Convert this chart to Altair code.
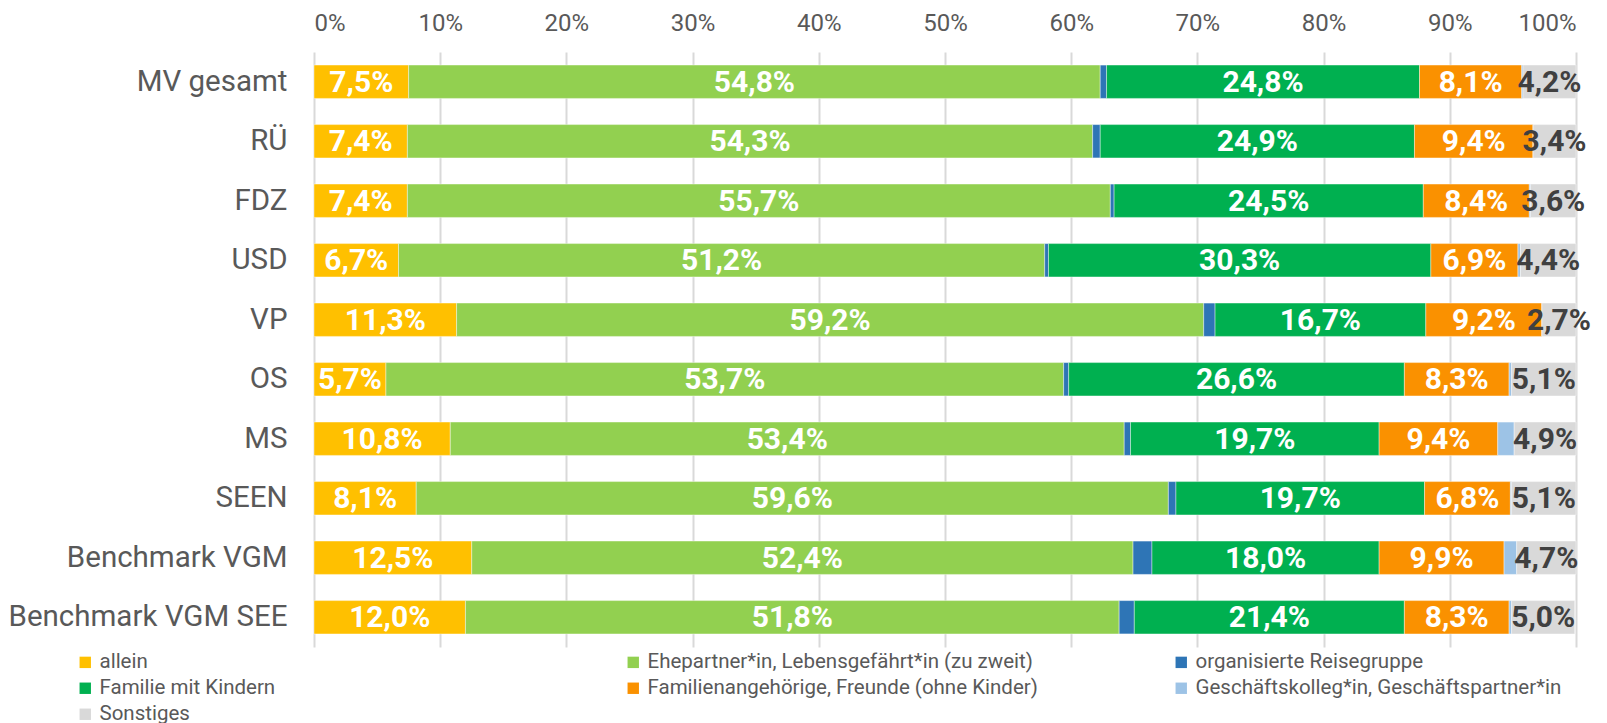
import altair as alt
import pandas as pd

cats = ["MV gesamt", "RÜ", "FDZ", "USD", "VP", "OS", "MS", "SEEN",
        "Benchmark VGM\u00a0", "Benchmark VGM SEE"]
series = ["allein", "Ehepartner*in, Lebensgefährt*in (zu zweit)", "organisierte Reisegruppe",
          "Familie mit Kindern", "Familienangehörige, Freunde (ohne Kinder)",
          "Geschäftskolleg*in, Geschäftspartner*in", "Sonstiges"]
colors = ["#FFC000", "#92D050", "#2E75B6", "#00B050", "#FA9100", "#9DC3E6", "#D9D9D9"]

allein = [7.5, 7.4, 7.4, 6.7, 11.3, 5.7, 10.8, 8.1, 12.5, 12.0]
ehe = [54.8, 54.3, 55.7, 51.2, 59.2, 53.7, 53.4, 59.6, 52.4, 51.8]
reise = [0.5, 0.6, 0.3, 0.3, 0.9, 0.4, 0.5, 0.6, 1.5, 1.2]
familie = [24.8, 24.9, 24.5, 30.3, 16.7, 26.6, 19.7, 19.7, 18.0, 21.4]
angeh = [8.1, 9.4, 8.4, 6.9, 9.2, 8.3, 9.4, 6.8, 9.9, 8.3]
geschaeft = [0.1, 0.0, 0.1, 0.2, 0.0, 0.2, 1.3, 0.1, 1.0, 0.2]
sonst = [4.2, 3.4, 3.6, 4.4, 2.7, 5.1, 4.9, 5.1, 4.7, 5.0]

values = [allein, ehe, reise, familie, angeh, geschaeft, sonst]
labeled = {0: "white", 1: "white", 3: "white", 4: "white", 6: "dark"}

rows = []
for ci, c in enumerate(cats):
    start = 0.0
    for si, s in enumerate(series):
        v = values[si][ci]
        end = start + v
        lab = ("%.1f%%" % v).replace(".", ",") if si in labeled else ""
        rows.append({"cat": c, "series": s, "order": si, "value": v,
                     "start": start, "end": end, "mid": (start + end) / 2,
                     "label": lab, "tc": labeled.get(si, "none")})
        start = end
df = pd.DataFrame(rows)

FONT = "Roboto"

y_enc = alt.Y("cat:N", sort=cats, title=None,
              scale=alt.Scale(paddingInner=0.44, paddingOuter=0.22),
              axis=alt.Axis(labelFontSize=29.5, labelColor="#595959", labelFont=FONT,
                            labelPadding=27, ticks=False, domain=False, grid=False,
                            labelLimit=400))

x_scale = alt.Scale(domain=[0, 100], nice=False)

bars = alt.Chart(df).mark_bar(stroke="white", strokeWidth=0.4).encode(
    x=alt.X("start:Q", scale=x_scale, title=None,
            axis=alt.Axis(orient="top", values=list(range(0, 101, 10)),
                          labelExpr="datum.value + '%'", labelFontSize=24,
                          labelColor="#595959", labelFont=FONT, labelPadding=17,
                          ticks=False, domain=False, grid=True,
                          gridColor="#D9D9D9", gridWidth=2)),
    x2="end:Q",
    y=y_enc,
    color=alt.Color("series:N", sort=series,
                    scale=alt.Scale(domain=series, range=colors),
                    legend=alt.Legend(title=None, orient="none", legendX=-239, legendY=600,
                                      direction="horizontal",
                                      columns=3, gridAlign="all", columnPadding=133,
                                      rowPadding=5, symbolType="square", symbolSize=130,
                                      symbolStrokeWidth=0, labelFontSize=20.5, labelFont=FONT,
                                      labelColor="#595959", labelLimit=1000, padding=0,
                                      labelOffset=4)),
    order=alt.Order("order:Q"),
)

txt_white = alt.Chart(df).transform_filter("datum.tc == 'white'").mark_text(
    font=FONT, fontSize=30, fontWeight="bold", color="white", baseline="middle", dy=1
).encode(x=alt.X("mid:Q", scale=x_scale), y=alt.Y("cat:N", sort=cats), text="label:N")

txt_dark = alt.Chart(df).transform_filter("datum.tc == 'dark'").mark_text(
    font=FONT, fontSize=30, fontWeight="bold", color="#404040", baseline="middle", dy=1
).encode(x=alt.X("mid:Q", scale=x_scale), y=alt.Y("cat:N", sort=cats), text="label:N")

chart = alt.layer(bars, txt_white, txt_dark).properties(
    width=1262, height=595,
    padding={"left": 0, "top": 3, "right": 0, "bottom": 0},
    background="white",
).configure_view(stroke=None)

chart.save("out.html", embed_options={"renderer": "svg", "actions": False})
